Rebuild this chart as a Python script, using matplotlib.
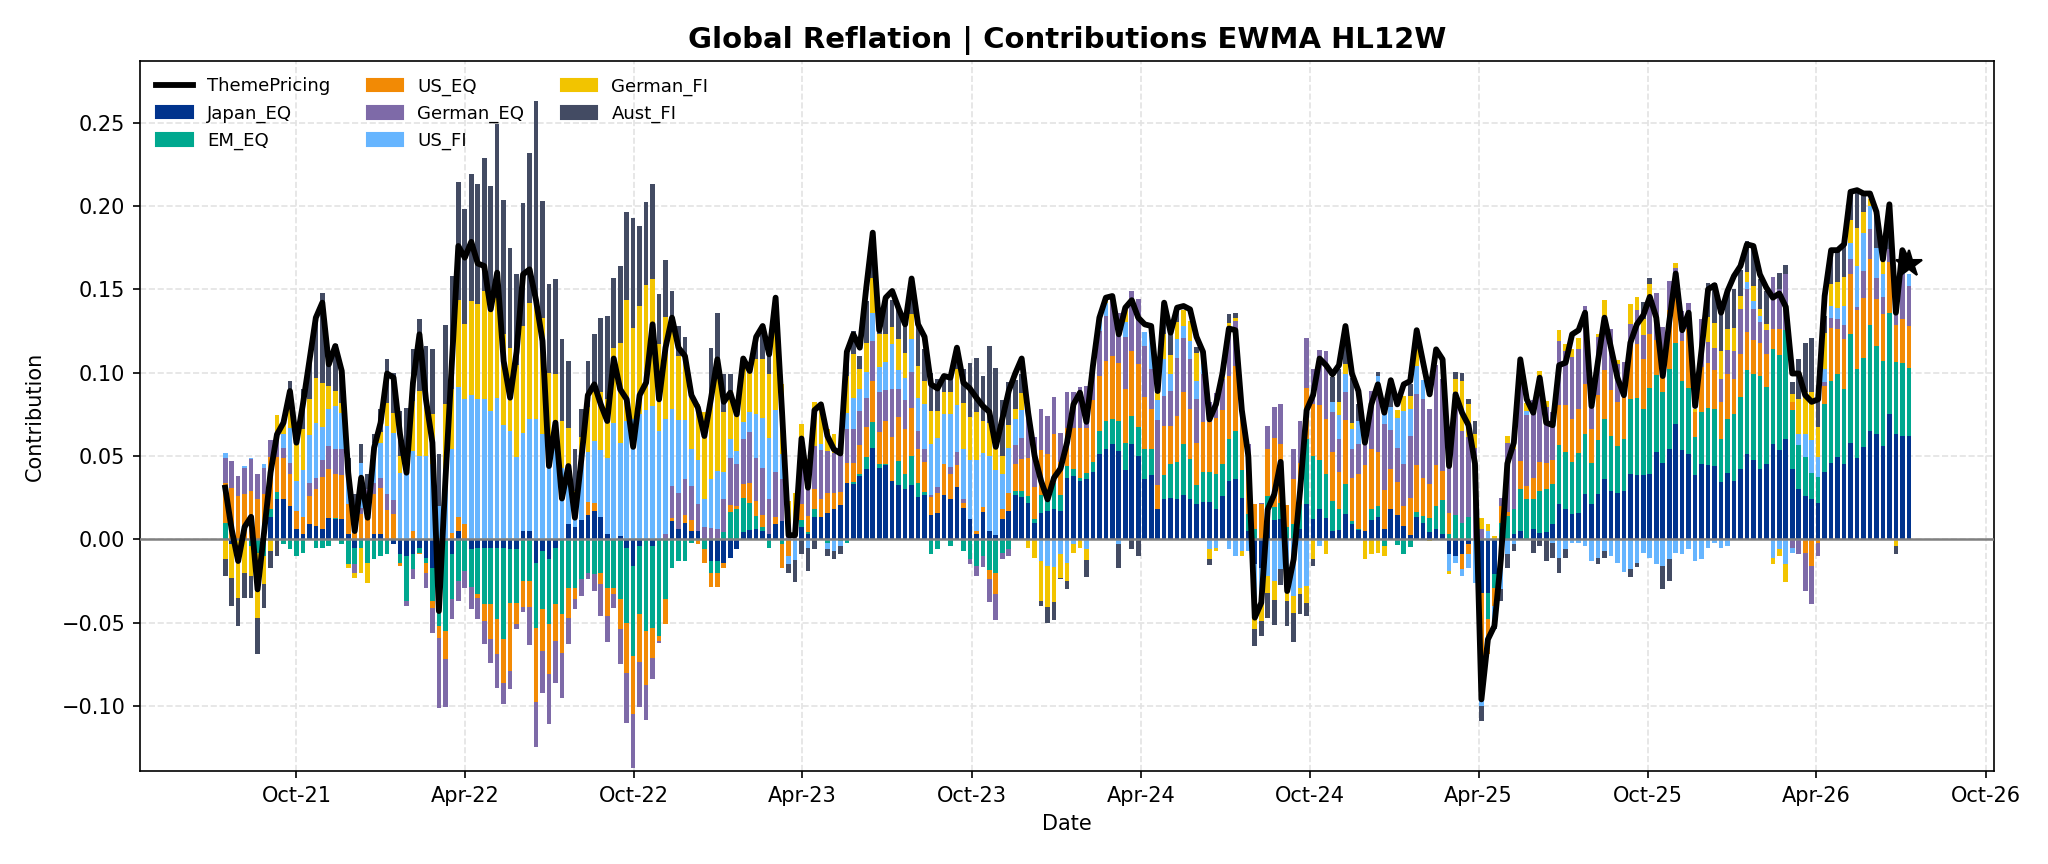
import numpy as np
import pandas as pd
import matplotlib
matplotlib.use('Agg')
import matplotlib.pyplot as plt
import matplotlib.dates as mdates
from matplotlib.patches import Patch
from matplotlib.lines import Line2D

# weekly values, in units of 0.01
theme = [3.1, 0.6, -1.3, 0.75, 1.35, -3.0, 0.4, 4.0, 6.3, 7.0,
         8.9, 5.8, 8.1, 10.7, 13.3, 14.2, 10.5, 11.6, 10.1, 4.0,
         0.5, 3.7, 1.3, 5.5, 7.0, 9.95, 9.7, 6.3, 4.0, 9.4,
         12.3, 8.4, 5.8, -4.3, 3.5, 10.5, 17.6, 16.9, 17.85, 16.55,
         16.4, 13.8, 16.0, 10.7, 8.5, 11.25, 15.9, 16.2, 14.35, 11.9,
         4.4, 7.0, 2.45, 4.4, 1.3, 4.8, 8.65, 9.3, 8.1, 7.1,
         10.85, 9.0, 8.4, 5.55, 8.65, 9.4, 12.9, 8.4, 11.5, 13.3,
         11.5, 11.0, 8.65, 7.9, 6.2, 8.4, 10.8, 8.25, 8.8, 7.5,
         10.85, 10.1, 12.15, 12.8, 11.1, 14.5, 7.6, 0.25, 0.25, 6.05,
         3.1, 7.75, 8.1, 6.2, 5.4, 5.15, 11.25, 12.3, 11.5, 15.1,
         18.4, 12.55, 14.5, 14.9, 13.85, 12.9, 15.65, 12.9, 12.15, 9.3,
         9.05, 9.8, 9.7, 11.5, 9.4, 9.05, 8.5, 8.0, 7.65, 5.55,
         7.2, 8.9, 9.95, 10.85, 7.6, 5.0, 3.5, 2.4, 3.7, 4.25,
         5.8, 8.1, 8.8, 7.05, 10.4, 13.3, 14.5, 14.6, 12.3, 13.9,
         14.35, 13.3, 12.9, 12.8, 8.9, 14.2, 12.4, 13.9, 14.0, 13.8,
         12.15, 11.25, 7.2, 8.1, 9.95, 12.65, 12.55, 7.75, 5.0, -4.7,
         -3.8, 1.8, 2.7, 4.65, -3.1, -1.2, 2.95, 7.75, 8.65, 10.85,
         10.45, 9.9, 10.45, 12.8, 9.95, 8.9, 5.8, 8.1, 9.3, 7.6,
         9.55, 8.1, 9.3, 9.5, 12.55, 10.6, 8.7, 11.4, 10.8, 4.4,
         8.7, 7.6, 6.85, 4.55, -9.6, -6.0, -5.2, -1.2, 4.55, 5.8,
         10.8, 8.4, 7.6, 9.7, 7.0, 6.85, 10.45, 10.6, 12.3, 12.55,
         13.6, 8.0, 10.7, 13.3, 11.5, 9.7, 8.65, 11.8, 12.9, 13.45,
         14.55, 13.3, 9.8, 13.05, 15.95, 12.55, 13.6, 8.0, 11.4, 15.0,
         15.25, 13.6, 14.9, 15.8, 16.4, 17.7, 17.6, 15.9, 15.1, 14.5,
         14.75, 13.95, 9.95, 9.95, 8.65, 8.25, 8.4, 14.6, 17.35, 17.35,
         17.7, 20.85, 20.95, 20.75, 20.75, 19.65, 16.8, 20.1, 13.6, 17.35, 16.55]

japan_eq = [0, -0.3, 0, 0, 0, 0, 0, 1.35, 2.4, 2.4,
            2.0, 0.6, 0.35, 0.9, 0.8, 0.65, 1.3, 1.2, 1.2, 0.3,
            -0.5, 0, 0, 0.3, 0.3, 0, -0.3, -0.9, -1.0, -0.9,
            -0.5, -1.1, -1.7, -0.5, 0, -0.9, 0.5, 0, -0.6, -0.5,
            -0.5, -0.5, -0.5, -0.5, -0.6, -0.6, 0.5, 0.5, -1.4, -0.7,
            -1.2, -0.5, 0, 0.9, 0.75, 1.15, 1.45, 1.7, 1.35, 0.3,
            0, 0.2, -0.5, -1.6, -0.4, 0, -0.4, 0, 0, 1.1,
            0.6, 1.0, 0.5, 0.5, 0, -1.3, -1.3, -1.4, -1.1, -0.6,
            0.45, 0.55, 0.6, 0.5, 0.35, 0.9, 1.1, 0, 0, 0.75,
            0.3, 1.35, 1.35, 1.6, 1.85, 2.05, 3.4, 3.35, 3.8, 4.25,
            5.5, 4.3, 4.45, 3.5, 3.25, 3.0, 3.25, 2.55, 2.65, 1.45,
            1.6, 2.65, 2.4, 3.15, 1.9, 1.25, 0.3, 1.65, 0.5, 0.25,
            1.2, 1.7, 2.65, 2.55, 2.2, 1.0, 1.6, 1.7, 1.85, 1.7,
            3.7, 3.8, 3.5, 3.6, 4.05, 5.15, 5.4, 5.75, 5.3, 4.15,
            5.7, 5.0, 3.65, 3.85, 1.85, 2.45, 2.5, 2.4, 2.65, 2.45,
            2.1, 2.25, 2.25, 1.85, 2.6, 3.5, 3.6, 2.5, 0.5, -1.5,
            -1.7, 1.5, 1.15, 1.2, 0, 0, 0.6, 2.1, 1.2, 1.85,
            1.3, 0.5, 0.55, 1.55, 0.9, 0.55, 0.5, 1.15, 1.35, 0.65,
            1.85, 1.45, 0.8, 0.25, 1.35, 1.0, 0.45, 0.65, 0.35, -0.9,
            -1.0, -0.9, -0.3, 0, -3.2, -3.2, -2.1, -1.5, 0, 0.3,
            0.5, 0, 0.6, 0.4, 0.45, 0.9, 2.1, 1.8, 1.5, 1.6,
            2.75, 2.1, 2.75, 3.65, 2.9, 2.8, 2.9, 3.95, 3.85, 3.85,
            3.95, 5.25, 4.6, 5.4, 6.9, 5.35, 5.15, 3.85, 4.55, 4.45,
            4.4, 3.45, 4.0, 3.5, 4.25, 5.15, 4.75, 4.2, 4.5, 5.7,
            5.35, 6.05, 4.2, 3.05, 2.6, 2.45, 2.2, 4.05, 4.6, 4.95,
            4.55, 5.8, 4.9, 5.55, 6.5, 6.35, 5.6, 7.5, 6.35, 6.2, 6.2]

em_eq = [1.0, 0, 0, 0, -0.4, -0.8, -1.0, 0.5, 0.45, -0.3,
         -0.6, -1.0, -0.8, 0, -0.5, -0.5, -0.4, 0.1, -0.3, -1.5,
         -1.0, -0.5, -1.4, -1.2, -1.0, -0.9, 0, -0.5, -2.7, -0.9,
         -0.3, -0.3, -2.0, -4.7, -5.5, -2.7, -2.5, -1.9, -2.25, -2.8,
         -3.4, -3.4, -4.3, -5.5, -3.2, -3.2, -2.5, -2.5, -3.9, -3.5,
         -3.9, -3.4, -4.5, -2.9, -2.9, -2.4, -2.0, -2.1, -2.0, -2.9,
         -2.9, -3.6, -4.5, -5.4, -4.1, -5.5, -4.9, -5.8, -3.6, -1.7,
         -1.3, -1.3, -0.2, 0, -0.6, -0.7, -0.7, 0.45, 1.65, 1.8,
         2.05, 1.65, 0.8, 0.25, -0.5, 0, -0.3, 0, 0, 0.4,
         0.15, 0.5, 0, -0.2, 0, -0.1, -0.2, 0.1, 0.15, 0.7,
         1.55, 0.2, 0.1, 0, 1.45, 0.95, 1.75, 0.85, 0.2, -0.85,
         -0.6, 0, -0.4, 0, -0.7, -1.2, -1.6, -1.0, -1.85, -2.0,
         -0.8, -0.6, 0.25, 0.35, 0.4, 0.2, 1.05, 0.7, 1.55, 0.95,
         0.7, 0.4, 0.2, 0.4, 0.6, 1.35, 1.7, 1.45, 1.8, 1.65,
         1.7, 1.75, 1.75, 1.55, 0, 1.4, 2.0, 2.25, 3.1, 2.35,
         1.15, 1.8, 1.8, 2.1, 1.95, 2.5, 2.9, 1.65, 1.05, 0.6,
         0, 1.1, 0.8, 1.0, 0.75, 0.9, 1.5, 3.9, 3.8, 2.9,
         2.6, 1.8, 1.3, 1.75, 0.2, 0.1, 0, 0.65, 0.65, -0.4,
         0, -0.35, -0.85, -0.45, 0.3, 0.4, 0.85, 1.35, 2.0, 0.35,
         1.45, 1.0, 1.35, 0, 0, -1.6, -0.8, 1.0, 1.4, 1.5,
         2.5, 2.4, 1.8, 2.5, 2.6, 2.45, 3.55, 3.45, 3.15, 3.6,
         3.6, 2.5, 3.2, 3.6, 3.3, 2.8, 3.1, 4.45, 4.65, 3.95,
         5.15, 4.6, 4.25, 4.85, 4.9, 4.15, 3.95, 2.3, 3.1, 3.45,
         3.4, 2.55, 3.25, 4.0, 4.3, 5.0, 5.15, 5.6, 4.65, 5.7,
         5.7, 6.5, 3.55, 2.6, 2.35, 1.55, 1.55, 4.1, 4.9, 4.95,
         4.5, 6.5, 5.3, 5.35, 6.35, 5.25, 5.1, 6.1, 4.3, 4.4, 4.1]

us_eq = [2.4, 3.1, 2.6, 2.7, 2.9, 2.4, 2.7, 3.1, 2.1, 2.5,
         1.9, 1.1, 1.0, 1.7, 2.2, 3.1, 2.9, 2.6, 2.65, 1.8,
         0.4, 1.5, 2.6, 2.4, 2.8, 1.75, 1.5, -0.2, 0, 0.5,
         -0.1, -0.6, -0.4, -0.7, -1.7, 0.4, 0.85, 0.9, 0, -0.2,
         -1.0, -2.1, -2.1, -2.6, -4.1, -1.3, -1.55, -1.55, -4.45, -2.5,
         -3.0, -2.2, -2.3, -1.8, -0.65, 0, 0.8, 0.5, -0.7, -1.7,
         -0.4, -1.8, -3.0, -3.5, -2.85, -3.25, -1.8, -0.3, -1.5, 0.2,
         0, 0.45, 0.65, -0.3, -0.8, -0.85, -0.85, -0.3, 0.4, 0.2,
         0.85, 1.2, 0.9, 0.7, 0, 0.45, -1.4, -1.0, 0, 1.0,
         0.95, 1.15, 1.05, 1.2, 0.95, 0.8, 1.2, 1.15, 1.7, 1.8,
         2.45, 1.95, 2.55, 2.65, 2.65, 2.7, 2.9, 2.0, 1.8, 1.1,
         1.2, 1.9, 1.5, 1.3, 0.3, 0, 0.2, 0.3, -0.5, -1.25,
         0.65, 1.1, 1.65, 1.9, 2.3, 1.95, 2.7, 2.75, 2.95, 2.0,
         2.3, 2.5, 3.0, 2.7, 3.7, 3.3, 3.6, 3.8, 3.5, 3.25,
         3.9, 3.75, 3.15, 2.4, 1.4, 2.95, 2.3, 2.75, 3.1, 3.0,
         2.55, 3.0, 3.0, 3.35, 3.2, 3.8, 3.9, 4.0, 3.4, 1.5,
         2.1, 2.8, 4.15, 3.5, 1.3, 2.75, 2.5, 3.1, 3.1, 3.3,
         3.35, 2.95, 2.2, 3.85, 2.6, 3.3, 3.95, 3.6, 3.25, 2.3,
         2.35, 2.0, 1.2, 2.25, 2.8, 2.3, 2.05, 2.45, 1.75, 1.25,
         0, -0.85, -0.6, 0, -6.3, -2.1, -1.1, 1.0, 0.25, 0,
         1.7, 0.8, 1.3, 1.75, 1.55, 1.4, 2.4, 2.8, 2.6, 2.6,
         3.0, 2.0, 2.7, 2.9, 2.75, 2.65, 2.55, 3.4, 3.25, 3.0,
         3.2, 2.1, 0.9, 3.5, 4.0, 2.4, 3.5, 1.5, 2.7, 2.7,
         2.35, 2.25, 2.65, 2.1, 2.6, 2.3, 2.05, 2.0, 1.95, 1.25,
         1.55, 0, 0.5, 0, -0.8, -1.6, -0.2, 1.05, 3.2, 2.7,
         3.0, 3.65, 3.55, 3.6, 4.0, 2.8, 2.85, 3.05, 2.2, 2.6, 2.5]

german_eq = [1.5, 1.6, 1.2, 1.6, 1.9, 1.5, 1.6, 1.0, 1.1, 0.6,
             0.7, 0, 0, 0.8, 0.7, 1.0, 1.4, 1.5, 1.55, 0,
             -0.5, 0.4, 0.4, 0.7, 0.6, 0.95, 0.85, 0, -0.3, -0.6,
             0, -0.9, -1.5, -4.2, -2.85, -1.2, -1.2, -1.0, -1.3, -1.3,
             -1.4, -1.4, -2.0, -1.3, -1.1, -0.3, -0.3, -2.3, -2.7, -2.5,
             -3.0, -2.5, -2.7, -1.6, -0.65, -1.0, -0.4, -1.0, -1.9, -1.55,
             -0.8, -2.1, -3.0, -3.2, -2.7, -2.1, -1.3, -0.1, 0.35, 1.9,
             2.2, 2.2, 2.05, 1.65, 0.75, 0.7, 0.6, 2.0, 2.85, 2.5,
             2.65, 3.05, 2.6, 2.85, 2.1, 2.7, 2.5, 0.5, 1.0, 2.5,
             2.5, 2.6, 2.95, 2.5, 2.4, 2.2, 2.0, 2.0, 2.05, 1.75,
             2.4, 2.4, 1.85, 2.9, 1.7, 1.7, 2.15, 1.1, 0.8, 0.1,
             0.35, 0, 0.45, 0.8, 0.2, -0.25, -0.6, -0.65, -1.4, -1.6,
             -0.4, -0.4, 1.1, 1.3, 2.6, 3.0, 2.45, 2.25, 2.2, 1.75,
             2.15, 2.15, 2.45, 2.5, 2.1, 2.7, 2.7, 3.65, 3.0, 3.1,
             3.6, 3.9, 3.05, 2.45, 3.9, 1.8, 2.1, 3.5, 3.25, 3.05,
             2.6, 2.9, 1.2, 1.5, 1.9, 3.0, 2.7, 0, 0.8, 0,
             0.1, 1.4, 1.85, 2.4, 0, 1.75, 2.5, 3.0, 2.15, 3.3,
             4.05, 2.4, 2.0, 1.7, 1.7, 1.75, 2.3, 3.5, 4.05, 4.0,
             2.35, 2.05, 2.5, 3.7, 4.25, 4.7, 4.5, 6.0, 5.55, 3.5,
             7.4, 5.5, 4.8, 5.5, 0.6, 0, 0, 0.5, 4.15, 3.6,
             6.0, 4.25, 4.65, 5.15, 3.35, 2.9, 3.85, 3.25, 3.7, 3.6,
             4.65, 1.8, 3.5, 3.2, 3.7, 2.3, 2.1, 1.15, 2.0, 1.45,
             2.0, 2.85, 3.0, 1.75, 0.5, 1.8, 1.6, 0, 2.9, 1.25,
             1.35, 1.4, 1.45, 1.7, 2.65, 2.6, 1.9, 1.25, 1.45, 3.1,
             2.4, 3.35, -0.5, -0.85, -2.3, -2.3, -0.8, 0.25, 0.6, 0.65,
             0.8, 0.85, 0.2, 1.6, 1.8, 1.3, 1.0, 0.8, 0.75, 2.7, 2.4]

us_fi = [0.3, 0, 0, 0.1, 0.1, 0, 0.2, 0, 0, 0.8,
         2.1, 1.8, 2.8, 2.85, 3.3, 2.0, 2.2, 2.6, 2.2, 1.6,
         0.8, 2.7, 0, 2.4, 2.1, 4.1, 4.05, 4.0, 4.0, 4.8,
         5.0, 5.0, 4.5, 2.0, 4.25, 5.0, 7.8, 7.5, 8.65, 8.4,
         8.4, 7.7, 8.5, 6.85, 6.5, 4.95, 5.9, 6.7, 7.2, 6.3,
         6.0, 6.0, 4.3, 3.3, 0.65, 3.5, 3.0, 3.7, 4.0, 4.6,
         7.0, 5.6, 7.1, 7.2, 7.5, 7.75, 8.0, 6.5, 6.9, 4.6,
         4.35, 3.5, 2.2, 2.6, 1.7, 2.9, 3.5, 1.6, 1.1, 0.8,
         1.05, 1.2, 2.6, 3.0, 3.65, 3.7, 1.5, -0.5, -1.25, 0.5,
         -0.5, 0, 0.4, -0.4, -0.7, -0.3, 1.0, 1.9, 1.35, 1.55,
         1.7, 1.5, 1.7, 2.7, 1.1, 1.35, 1.95, 2.0, 2.65, 3.1,
         2.95, 3.0, 3.2, 2.8, 3.0, 3.5, 4.25, 3.25, 4.5, 3.9,
         2.1, 2.7, 1.55, 1.65, 0.2, 0, -1.3, -1.6, -1.65, -0.9,
         -1.4, -0.3, 0, -0.6, 0, 0.8, 0.8, 0, -0.3, 0.9,
         0, 0, 0.85, 2.0, 1.2, 2.2, 1.05, 1.1, 0.7, 1.05,
         1.1, 0.6, -0.6, -0.5, 0, -0.6, -1.0, -0.7, -0.7, -2.7,
         -1.8, -2.2, -2.5, -1.8, -2.3, -3.4, -2.9, -2.8, 0, -0.4,
         0, 0.6, 1.4, 1.1, 1.2, 1.4, 0, 0, 0.5, 0.8,
         1.4, 1.8, 3.2, 1.6, 1.7, 1.15, 0, 0, 0, -1.0,
         -0.4, -0.45, -0.8, -2.6, -0.5, 0.5, -0.9, -1.5, -0.9, -0.3,
         0, 0.25, 0, 0, 0, -0.2, -1.1, -0.6, -0.2, -0.2,
         -0.4, -1.3, -1.1, -0.7, -1.0, -1.4, -1.95, -1.8, -1.4, -0.8,
         -1.1, -1.5, -1.6, -1.2, -0.8, -0.9, -0.55, -1.3, -1.2, -0.5,
         -0.2, -0.5, -0.4, 0, 0, 0.4, 0.45, 0.35, 0, -1.1,
         -0.6, -1.5, -0.3, 0.7, 1.4, 1.95, 1.2, 0.8, 0.7, 0.65,
         1.15, 1.0, 2.45, 2.3, 1.35, 1.8, 1.35, 0, 0, 0.5, 0.7]

german_fi = [-1.2, -2.0, -3.5, -2.0, -1.8, -3.9, -1.7, -0.7, 1.4, 0.8,
             1.1, 2.3, 2.5, 2.15, 2.7, 2.65, 1.4, 0.9, 0.6, -0.2,
             -0.3, -1.5, -1.2, 0, 0.65, 1.4, 1.2, 1.0, 0, 3.0,
             3.9, 3.1, 3.0, 0, 3.9, 3.6, 5.2, 4.5, 5.65, 5.7,
             6.5, 6.0, 6.0, 5.5, 5.0, 5.5, 6.4, 7.0, 7.0, 7.0,
             4.0, 3.9, 2.8, 2.5, 1.5, 1.5, 2.7, 3.0, 3.5, 3.5,
             4.5, 6.0, 7.25, 5.5, 6.5, 7.5, 7.6, 5.2, 6.1, 5.6,
             3.85, 3.85, 3.3, 3.4, 5.2, 5.2, 5.5, 3.6, 2.9, 2.2,
             3.65, 2.8, 3.3, 3.55, 3.8, 6.75, 4.2, 1.8, 1.8, 1.75,
             0.9, 2.65, 2.5, 1.3, 1.1, 0.65, 2.2, 2.6, 1.15, 1.75,
             2.1, 1.95, 1.65, 1.0, 1.9, 1.5, 1.55, 1.9, 1.4, 1.95,
             1.6, 1.3, 1.3, 2.15, 2.8, 2.6, 2.9, 1.9, 2.0, 1.8,
             1.05, 1.35, 0.6, 1.05, -0.5, -1.1, -2.4, -2.45, -2.1, -1.4,
             -1.1, -0.5, -0.5, -0.65, 0, 0, 0.25, 0, 0, 0.8,
             0, 0, 0, 0, 0.45, 1.5, 1.1, 1.05, 0.95, 1.2,
             1.7, 0.4, -0.6, -0.2, 0.3, 0.2, 0.2, -0.3, 0, -1.2,
             -1.4, -1.0, -1.15, 0, -1.4, -1.0, -0.4, -1.0, -1.2, 0,
             -0.9, 0, 0.8, 0.6, 0.4, 0, -1.2, -0.85, -0.8, -0.6,
             0, 0.45, 0.9, 0.8, 1.0, 0, -0.1, 0, 0, -0.2,
             0.8, 3.0, 2.0, 0.8, 0.7, 0.4, 0.2, 0, 0.4, 0.5,
             0, 0.5, 0, 0.3, 0.35, 0, 0.65, 0.4, 0.45, 0.7,
             0, 0, 0.15, 1.0, 0, 0.2, 0, 1.2, 0.8, 1.0,
             1.0, 0, 0, 0, 0.3, 0, 0, 0.2, 0, 1.5,
             1.5, 1.65, 1.25, 1.4, 0.8, 0.6, 0.9, 0.45, 0.4, -0.4,
             -0.4, -1.05, 0.45, 2.05, 2.5, 2.9, 1.8, 2.15, 1.3, 1.55,
             1.75, 1.35, 2.3, 1.25, 0.4, 0, 0.8, 0, -0.4, 0, 0]

aust_fi = [-1.0, -1.7, -1.7, -1.5, -1.3, -2.2, -1.4, -1.0, -1.0, 0,
           1.7, 1.0, 2.4, 2.3, 3.6, 5.4, 1.8, 2.85, 2.0, 1.2,
           1.5, 1.1, 0.9, 0.5, 1.4, 2.6, 2.4, 2.7, 3.9, 3.15,
           4.3, 3.5, 3.9, 3.1, 4.7, 6.8, 7.1, 6.9, 7.6, 7.2,
           8.0, 7.5, 10.4, 8.0, 6.0, 5.5, 7.4, 9.0, 12.1, 7.0,
           5.3, 5.7, 4.9, 4.0, 2.5, 1.65, 2.75, 3.4, 4.45, 5.0,
           4.2, 4.6, 5.3, 6.6, 4.8, 5.0, 5.75, 3.0, 3.4, 1.5,
           1.8, 1.15, 0, 0, 0, 2.7, 4.0, 2.3, 1.0, 0.8,
           0, 0, 1.35, 2.0, 1.3, 0, 0, -0.5, -1.3, -0.9,
           -1.4, -0.6, 0, -0.4, -0.5, -0.5, 1.6, 1.4, 0.8, 2.5,
           2.0, 0.5, 2.2, 1.6, 1.8, 2.3, 1.8, 2.4, 1.9, 2.3,
           1.9, 1.1, 1.1, 1.2, 2.0, 3.25, 3.25, 2.7, 4.6, 4.35,
           3.35, 2.6, 1.75, 1.15, 0.4, 0, -0.3, -0.95, -1.1, -0.1,
           -0.45, 0, 0, -1.0, 0, 0, 0, 0, -1.4, 0,
           -0.6, -1.0, 0, 0, 0.25, 1.5, 1.25, 0.8, 0, 0,
           0.35, 0, -0.35, 0, 0, 0.5, 0.3, 0, 0, -1.0,
           -0.9, -1.5, -1.5, -0.95, -1.5, -1.75, -1.15, -0.8, -0.4, 0,
           0, 1.5, 2.0, 1.5, 2.7, 1.0, 0, 0, 0.25, 0,
           1.1, 0, 0, 0.7, 0, 0, 0, 0, 0, 1.4,
           0.4, 0.5, 0.3, 0.8, -0.9, 0, -0.5, -0.7, -0.8, -0.4,
           0, 0, -0.8, -0.4, -1.3, -0.9, -0.9, -0.5, 0, 0,
           0, 0, -0.4, -0.4, 0, 0, 0, -0.45, -0.25, 1.0,
           0.4, 0, -1.35, -1.3, 0, 0, 0, 0, 0, 2.05,
           2.4, 2.25, 2.35, 2.3, 1.55, 1.85, 2.35, 1.8, 1.95, 0,
           1.0, 0.55, 0.75, 2.45, 2.95, 3.25, 1.6, 1.0, 1.9, 1.85,
           2.0, 1.65, 2.25, 1.0, 0, 2.0, 0, 2.7, -0.45, 0, 0]

names = ['Japan_EQ', 'EM_EQ', 'US_EQ', 'German_EQ', 'US_FI', 'German_FI', 'Aust_FI']
series = [japan_eq, em_eq, us_eq, german_eq, us_fi, german_fi, aust_fi]
colors = ['#00338D', '#00A88F', '#F28A05', '#7E6AA8', '#66B5FF', '#F2C400', '#434B63']

dates = pd.date_range('2021-07-16', periods=len(theme), freq='7D')

fig = plt.figure(figsize=(2048 / 150, 864 / 150), dpi=150)
ax = fig.add_axes([0.0684, 0.1076, 0.9052, 0.8218])

# stack positives upward and negatives downward
pos = np.zeros(len(dates))
neg = np.zeros(len(dates))
for name, vals, c in zip(names, series, colors):
    v = np.array(vals) / 100.0
    bottom = np.where(v >= 0, pos, neg)
    ax.bar(dates, v, width=5, bottom=bottom, color=c, linewidth=0, zorder=2)
    pos += np.clip(v, 0, None)
    neg += np.clip(v, None, 0)

t = np.array(theme) / 100.0
ax.plot(dates, t, color='black', lw=2.8, zorder=5)
ax.plot(dates[-1], t[-1], marker='*', ms=13, color='black', zorder=6)
ax.axhline(0, color='gray', lw=1.2, zorder=3)

ax.set_xlim(pd.Timestamp('2021-04-15'), pd.Timestamp('2026-10-10'))
ax.set_ylim(-0.139, 0.287)
ax.xaxis.set_major_locator(mdates.MonthLocator(bymonth=[4, 10]))
ax.xaxis.set_major_formatter(mdates.DateFormatter('%b-%y'))
ax.grid(True, linestyle='--', color='#e3e3e3', lw=0.8, zorder=0)
ax.set_axisbelow(True)

ax.set_title('Global Reflation | Contributions EWMA HL12W', fontsize=14, fontweight='bold')
ax.set_xlabel('Date')
ax.set_ylabel('Contribution', labelpad=8)

handles = [Line2D([0], [0], color='black', lw=2.8)] + [Patch(color=c) for c in colors]
labels = ['ThemePricing'] + names
ax.legend(handles, labels, loc='upper left', ncol=3, fontsize=8.7, frameon=False)

fig.savefig('out.png', dpi=150)
